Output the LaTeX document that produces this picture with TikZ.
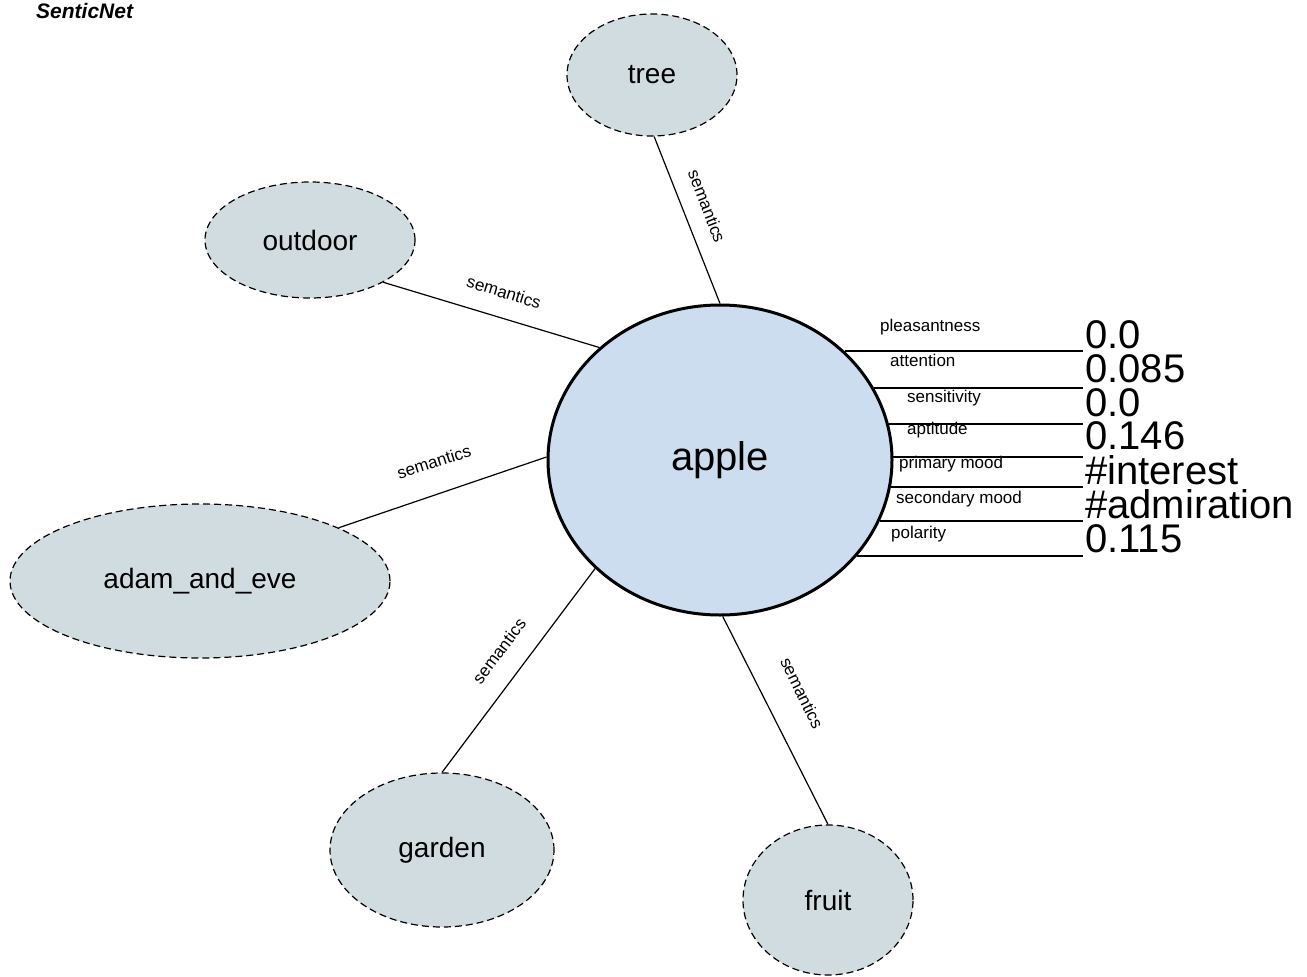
\documentclass[tikz,border=0pt]{standalone}
\usepackage{fontspec}
\setmainfont{Liberation Sans}
\usetikzlibrary{shapes.geometric}
\definecolor{applefill}{RGB}{203,221,238}
\definecolor{satfill}{RGB}{208,220,224}
\begin{document}
\begin{tikzpicture}[x=1pt,y=-1pt,
  sat/.style={ellipse, draw, dash pattern=on 7pt off 4pt, line width=1.2pt, fill=satfill, inner sep=0pt, font=\fontsize{28}{32}\selectfont},
  core/.style={ellipse, draw, line width=3pt, fill=applefill, inner sep=0pt, minimum width=344pt, minimum height=310pt, font=\fontsize{40}{46}\selectfont},
  conn/.style={line width=1.2pt},
  attrline/.style={line width=2pt},
  rel/.style={font=\fontsize{17}{20}\selectfont, inner sep=0pt},
  attr/.style={font=\fontsize{17}{20}\selectfont, inner sep=0pt, anchor=base west},
  val/.style={font=\fontsize{40}{46}\selectfont, inner sep=0pt, anchor=base west},
  ttl/.style={font=\fontsize{21}{24}\selectfont\bfseries\itshape, inner sep=0pt, anchor=base west}
]
\useasboundingbox (0,0) rectangle (1307,977);

\node[ttl] (title) at (36,19) {SenticNet};

% central concept
\node[core] (apple) at (720,460) {apple};

% semantic neighbours
\node[sat, minimum width=170pt, minimum height=122pt] (tree) at (652,75) {tree};
\node[sat, minimum width=210pt, minimum height=116pt] (outdoor) at (310,240) {outdoor};
\node[sat, minimum width=380pt, minimum height=154pt] (adam) at (200,581) {adam\_and\_eve};
\node[sat, minimum width=224pt, minimum height=154pt] (garden) at (442,850) {garden};
\node[sat, minimum width=170pt, minimum height=150pt] (fruit) at (828,900) {fruit};

% connectors
\draw[conn] (tree.-88) -- (apple.90);
\draw[conn] (outdoor.-30.5) -- (apple.137.5);
\draw[conn] (adam.21.4) -- (apple.179);
\draw[conn] (garden.90) -- (apple.221);
\draw[conn] (fruit.90) -- (apple.-89);

% relation labels
\node[rel, rotate=-69] (l1) at (707,206) {semantics};
\node[rel, rotate=-17] (l2) at (504,292) {semantics};
\node[rel, rotate=17.6] (l3) at (434,462) {semantics};
\node[rel, rotate=53] (l4) at (499,651) {semantics};
\node[rel, rotate=-64] (l5) at (802,693) {semantics};

% attribute lines
\coordinate (vend) at (1083,0);
\draw[attrline] (apple.41.28) -- (apple.41.28 -| vend);
\draw[attrline] (apple.25.7) -- (apple.25.7 -| vend);
\draw[attrline] (apple.12.83) -- (apple.12.83 -| vend);
\draw[attrline] (apple.1.67) -- (apple.1.67 -| vend);
\draw[attrline] (apple.-9.74) -- (apple.-9.74 -| vend);
\draw[attrline] (apple.-21.47) -- (apple.-21.47 -| vend);
\draw[attrline] (apple.-35.86) -- (apple.-35.86 -| vend);

% attribute names
\node[attr] (n1) at (880,331) {pleasantness};
\node[attr] (n2) at (890,366) {attention};
\node[attr] (n3) at (907,402) {sensitivity};
\node[attr] (n4) at (907,434) {aptitude};
\node[attr] (n5) at (899,468) {primary mood};
\node[attr] (n6) at (896,503) {secondary mood};
\node[attr] (n7) at (891,538) {polarity};

% attribute values
\node[val] (v1) at (1085,348) {0.0};
\node[val] (v2) at (1085,382) {0.085};
\node[val] (v3) at (1085,416) {0.0};
\node[val] (v4) at (1085,449) {0.146};
\node[val] (v5) at (1085,484) {\#interest};
\node[val] (v6) at (1085,518) {\#admiration};
\node[val] (v7) at (1085,552) {0.115};
\end{tikzpicture}
\end{document}
